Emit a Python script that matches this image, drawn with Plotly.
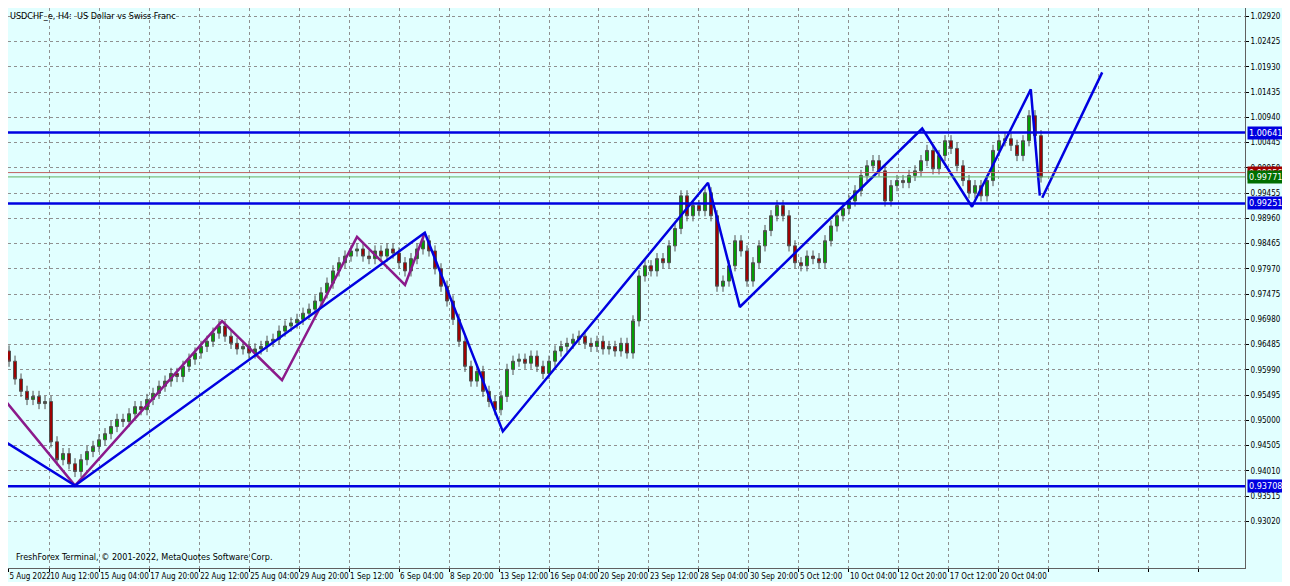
import plotly.graph_objects as go

# H4 closes (one candle per ~8h)
closes = [
    0.9636, 0.9616, 0.9581, 0.9557, 0.9541, 0.9547, 0.9533, 0.9537, 0.9458, 0.9423,
    0.9435, 0.9415, 0.9400, 0.9423, 0.9439, 0.9449, 0.9462, 0.9474, 0.9488, 0.9502,
    0.9498, 0.9513, 0.9527, 0.9521, 0.9541, 0.9553, 0.9567, 0.9577, 0.9592, 0.9586,
    0.9606, 0.9620, 0.9632, 0.9645, 0.9655, 0.9671, 0.9685, 0.9665, 0.9651, 0.9640,
    0.9645, 0.9632, 0.9640, 0.9645, 0.9655, 0.9659, 0.9675, 0.9685, 0.9691, 0.9698,
    0.9710, 0.9718, 0.9734, 0.9750, 0.9769, 0.9793, 0.9809, 0.9822, 0.9832, 0.9836,
    0.9822, 0.9817, 0.9832, 0.9822, 0.9836, 0.9828, 0.9809, 0.9793, 0.9817, 0.9836,
    0.9852, 0.9832, 0.9797, 0.9763, 0.9734, 0.9698, 0.9655, 0.9606, 0.9577, 0.9596,
    0.9557, 0.9537, 0.9521, 0.9547, 0.9600, 0.9616, 0.9620, 0.9612, 0.9626, 0.9606,
    0.9592, 0.9616, 0.9636, 0.9645, 0.9651, 0.9659, 0.9665, 0.9651, 0.9645, 0.9655,
    0.9640, 0.9645, 0.9636, 0.9651, 0.9632, 0.9695, 0.9783, 0.9803, 0.9793, 0.9817,
    0.9809, 0.9842, 0.9876, 0.9940, 0.9901, 0.9921, 0.9911, 0.9946, 0.9901, 0.9763,
    0.9773, 0.9803, 0.9852, 0.9832, 0.9773, 0.9809, 0.9842, 0.9872, 0.9901, 0.9921,
    0.9901, 0.9842, 0.9809, 0.9803, 0.9822, 0.9817, 0.9809, 0.9852, 0.9881, 0.9901,
    0.9915, 0.9930, 0.9950, 0.9980, 0.9999, 1.0009, 0.9989, 0.9930, 0.9960, 0.9970,
    0.9966, 0.9980, 0.9989, 1.0009, 1.0029, 0.9993, 1.0019, 1.0048, 1.0033, 0.9999,
    0.9970, 0.9946, 0.9960, 0.9940, 0.9970, 1.0029, 1.0048, 1.0052, 1.0039, 1.0019,
    1.0048, 1.0097, 1.0058, 0.9977,
]
first_open = 0.9628
wick = 0.0011

# zigzag pivots (bar index, price)
blue_zz_x = [-0.5, 12, 70.3, 83.3, 117.5, 122.8, 153.2, 161.5, 171.3, 172.8]
blue_zz_y = [0.94647, 0.93724, 0.98676, 0.94785, 0.99658, 0.97222, 1.00719, 0.99187, 1.01486, 0.99403]
proj_x = [173.2, 183.2]
proj_y = [0.99364, 1.01820]
purple_zz_x = [-0.5, 12, 36.5, 46.5, 59, 67, 70.3]
purple_zz_y = [0.95512, 0.93724, 0.96946, 0.95787, 0.98597, 0.97654, 0.98676]

levels = [1.00641, 0.99251, 0.93708]
bid = 0.99771
ask = 0.99856

date_labels = ["5 Aug 2022", "10 Aug 12:00", "15 Aug 04:00", "17 Aug 20:00", "22 Aug 12:00",
               "25 Aug 04:00", "29 Aug 20:00", "1 Sep 12:00", "6 Sep 04:00", "8 Sep 20:00",
               "13 Sep 12:00", "16 Sep 04:00", "20 Sep 20:00", "23 Sep 12:00",
               "28 Sep 04:00", "30 Sep 20:00", "5 Oct 12:00", "10 Oct 04:00",
               "12 Oct 20:00", "17 Oct 12:00", "20 Oct 04:00", "", "", "", ""]
tick_idx = [0.9] + [7.7 + 8.33 * k for k in range(len(date_labels) - 1)]
y_ticks = [round(1.02920 - 0.00495 * k, 5) for k in range(21)]

opens = [first_open] + closes[:-1]
highs = [max(o, c) + wick for o, c in zip(opens, closes)]
lows = [min(o, c) - wick for o, c in zip(opens, closes)]
idx = list(range(len(closes)))

FONT = "Liberation Sans Narrow, DejaVu Sans Condensed, Liberation Sans"

fig = go.Figure()
fig.add_trace(go.Candlestick(
    x=idx, open=opens, high=highs, low=lows, close=closes,
    increasing=dict(fillcolor="#00a000", line=dict(color="#505050", width=1)),
    decreasing=dict(fillcolor="#a00000", line=dict(color="#505050", width=1)),
    whiskerwidth=0, showlegend=False, hoverinfo="skip",
))

for lv in levels:
    fig.add_hline(y=lv, line=dict(color="#0000e0", width=2.5))
fig.add_hline(y=ask, line=dict(color="#c06060", width=1))
fig.add_hline(y=bid, line=dict(color="#60b060", width=1))

fig.add_trace(go.Scatter(x=purple_zz_x, y=purple_zz_y, mode="lines",
                         line=dict(color="#8b1a8b", width=2.5), showlegend=False))
fig.add_trace(go.Scatter(x=blue_zz_x, y=blue_zz_y, mode="lines",
                         line=dict(color="#0000e0", width=2.5), showlegend=False))
fig.add_trace(go.Scatter(x=proj_x, y=proj_y, mode="lines",
                         line=dict(color="#0000e0", width=2.5), showlegend=False))

# price labels on the right axis
for val, col in [(1.00641, "#0000e0"), (ask, "#a00000"), (bid, "#007000"),
                 (0.99251, "#0000e0"), (0.93708, "#0000e0")]:
    fig.add_annotation(x=1.0, xref="paper", y=val, yref="y", xanchor="left",
                       text=f"{val:.5f}", showarrow=False, bgcolor=col,
                       font=dict(color="white", size=9, family=FONT),
                       borderpad=1, xshift=2)

fig.add_annotation(x=0, xref="paper", y=1, yref="paper", xanchor="left", yanchor="top",
                   text="USDCHF_e, H4:  US Dollar vs Swiss Franc", showarrow=False,
                   font=dict(size=9, color="black"), xshift=0, yshift=-1)
fig.add_annotation(x=0, xref="paper", y=0, yref="paper", xanchor="left", yanchor="bottom",
                   text="FreshForex Terminal, © 2001-2022, MetaQuotes Software Corp.",
                   showarrow=False, font=dict(size=9, color="black"), xshift=6, yshift=4)

fig.update_layout(
    width=1282, height=574,
    margin=dict(l=0, r=45, t=0, b=14),
    paper_bgcolor="#e1ffff", plot_bgcolor="#e1ffff",
    font=dict(family=FONT, size=8, color="black"),
    xaxis=dict(range=[0.83, 207], rangeslider=dict(visible=False), automargin=False,
               tickmode="array", tickvals=tick_idx, ticktext=date_labels, tickangle=0,
               ticklabelposition="outside right", ticks="outside", ticklen=3,
               tickcolor="black", showgrid=True, gridcolor="#909090", griddash="dot",
               gridwidth=1, showline=True, linecolor="#606060", mirror=True,
               zeroline=False),
    yaxis=dict(range=[0.92108, 1.03081], side="right", automargin=False,
               tickmode="array", tickvals=y_ticks, tickformat=".5f",
               ticks="outside", ticklen=3,
               tickcolor="black", showgrid=True, gridcolor="#909090", griddash="dot",
               showline=True, linecolor="#606060", mirror=True, zeroline=False),
)

fig.write_html("out.html")
